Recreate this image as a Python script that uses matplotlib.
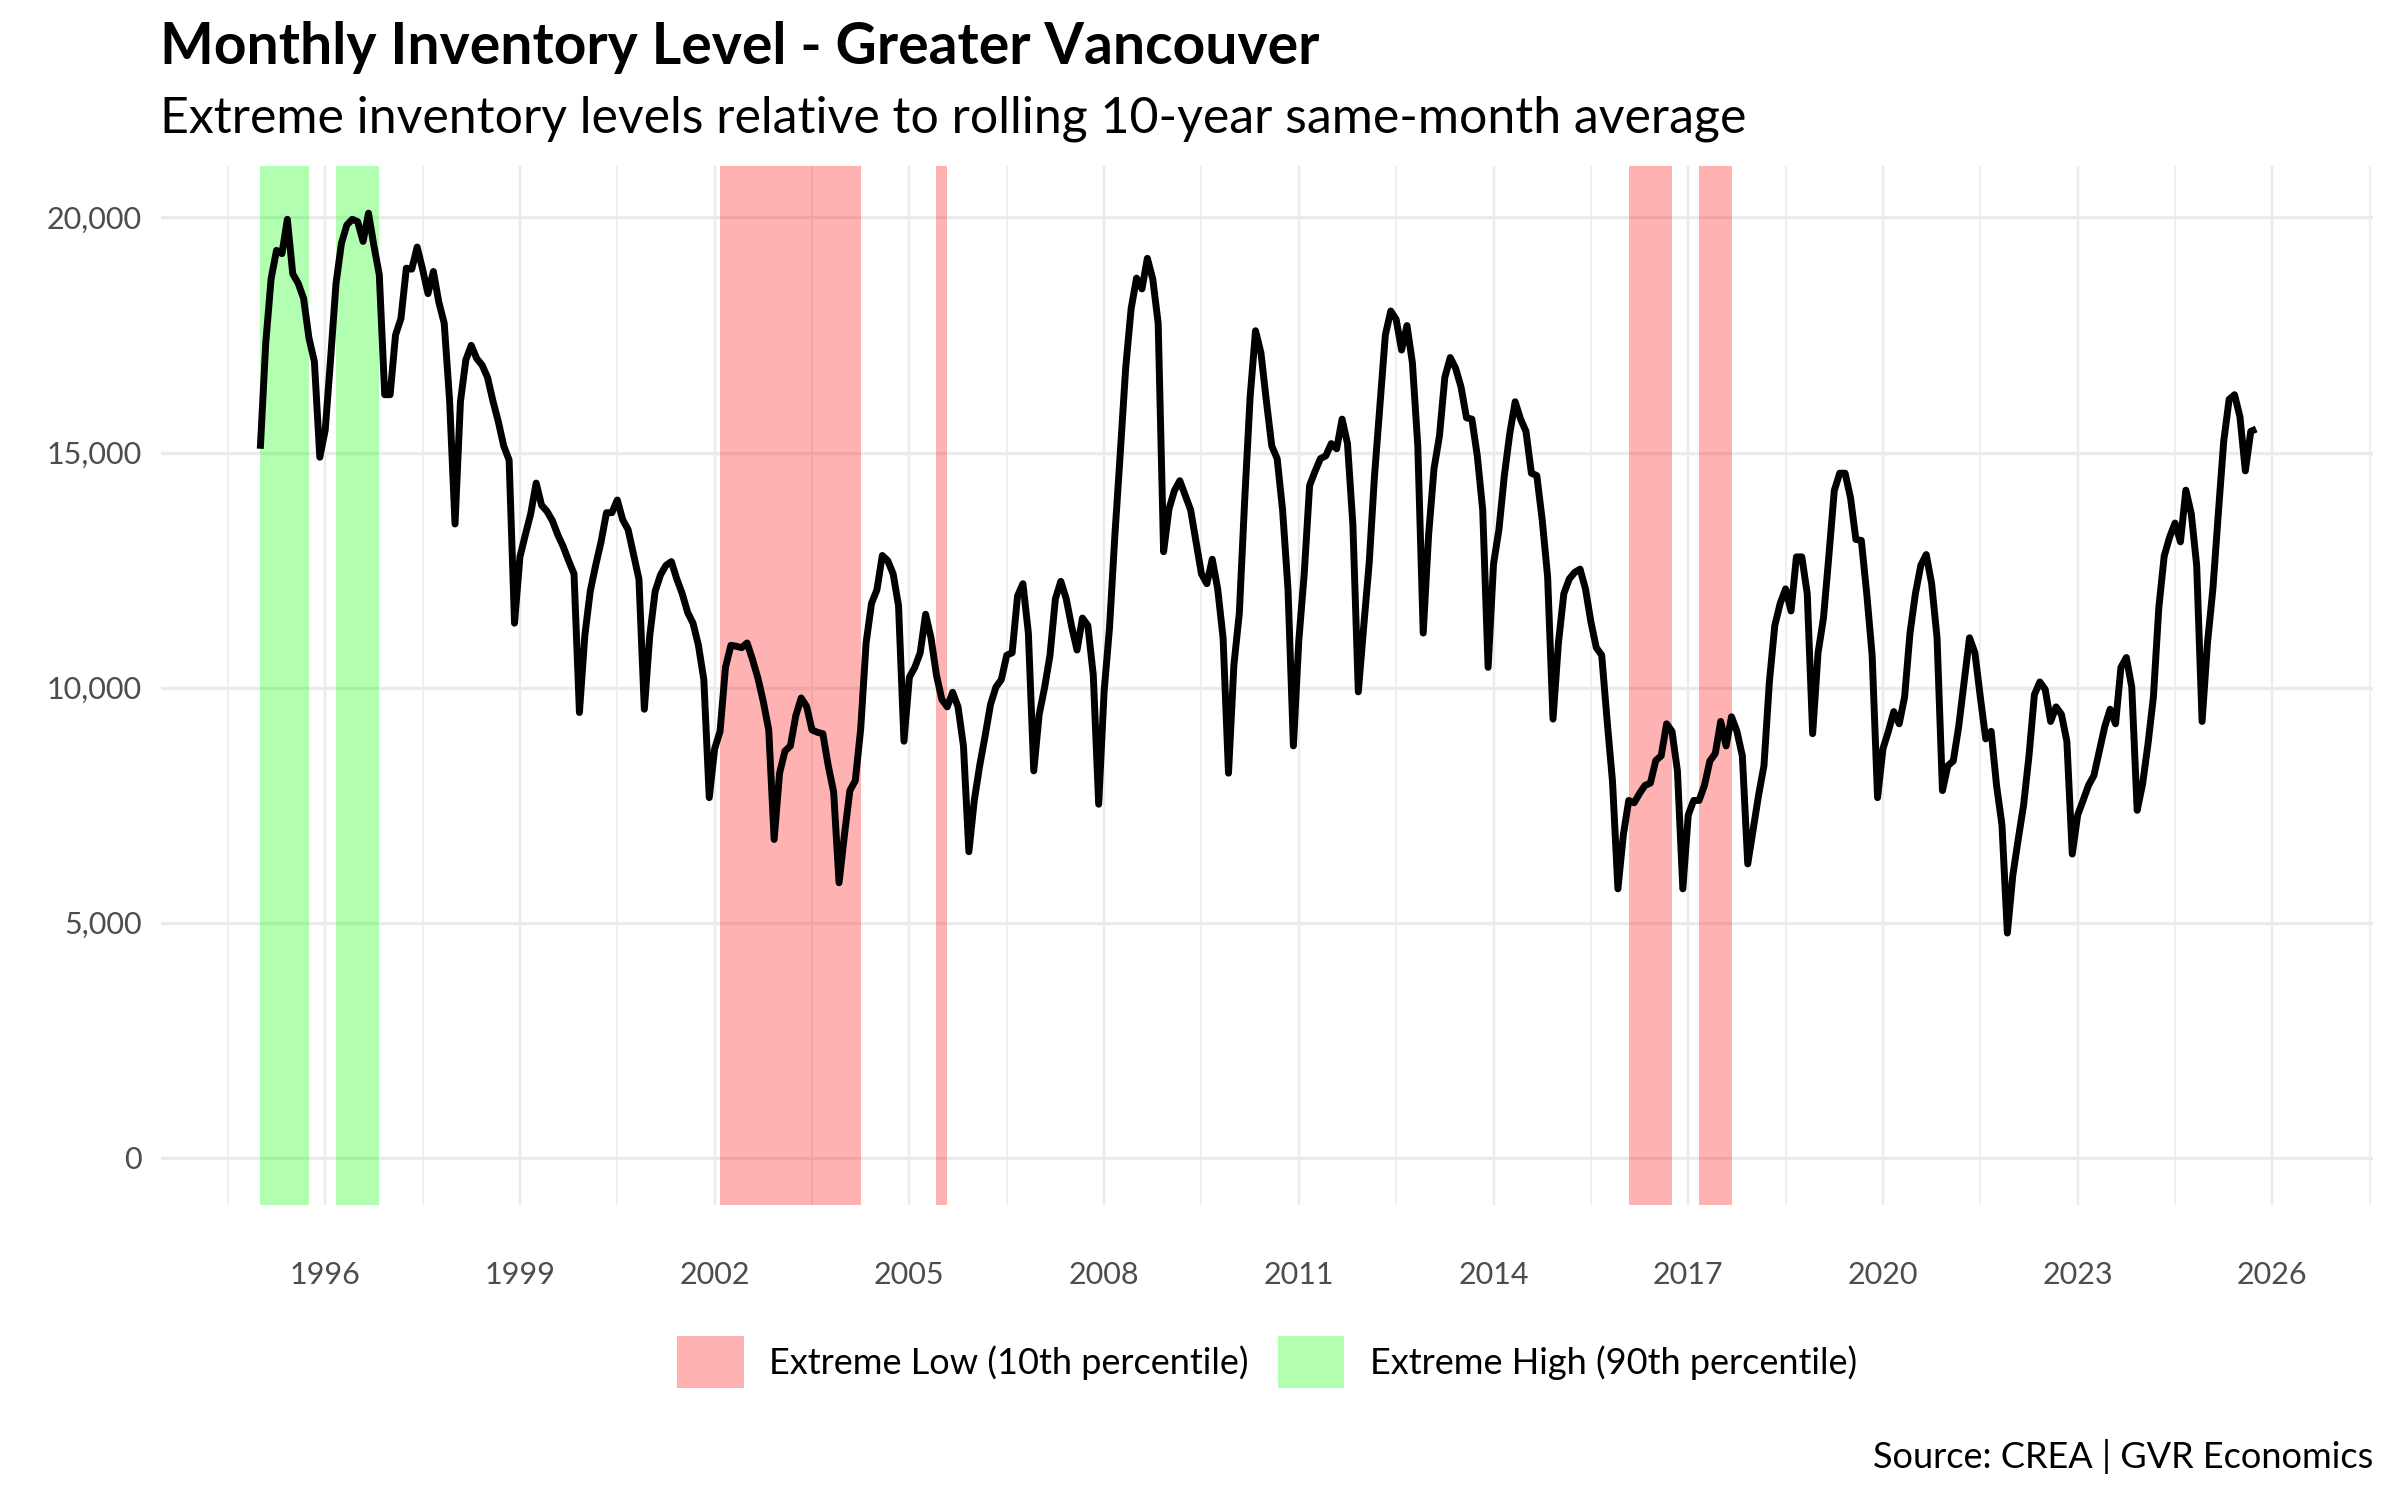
import numpy as np
import matplotlib.pyplot as plt
from matplotlib.patches import Patch
from matplotlib.ticker import FuncFormatter

# monthly inventory, Greater Vancouver, starting Jan 1995
start_year = 1995
inventory = [
    15080, 17320, 18700, 19300, 19230, 19960, 18800, 18600, 18280, 17430, 16930, 14900,  # 1995
    15480, 17000, 18600, 19450, 19840, 19960, 19910, 19490, 20090, 19400, 18780, 16230,  # 1996
    16230, 17500, 17850, 18920, 18900, 19370, 18900, 18380, 18850, 18200, 17750, 16100,  # 1997
    13480, 16080, 16970, 17280, 17000, 16860, 16600, 16100, 15660, 15140, 14840, 11370,  # 1998
    12780, 13250, 13700, 14350, 13880, 13750, 13550, 13250, 13000, 12700, 12420, 9470,   # 1999
    11110, 12050, 12600, 13100, 13720, 13720, 13990, 13570, 13360, 12830, 12310, 9540,   # 2000
    11100, 12050, 12400, 12600, 12680, 12310, 12000, 11600, 11370, 10900, 10170, 7660,   # 2001
    8700, 9070, 10430, 10900, 10880, 10850, 10950, 10600, 10200, 9700, 9100, 6770,       # 2002
    8180, 8650, 8760, 9400, 9780, 9600, 9100, 9050, 9020, 8340, 7780, 5850,              # 2003
    6870, 7810, 8020, 9120, 10950, 11790, 12080, 12810, 12700, 12420, 11740, 8860,       # 2004
    10220, 10430, 10740, 11560, 11060, 10270, 9750, 9590, 9900, 9590, 8760, 6510,        # 2005
    7600, 8340, 8970, 9640, 10010, 10170, 10690, 10740, 11950, 12210, 11160, 8230,       # 2006
    9430, 10000, 10690, 11890, 12260, 11890, 11300, 10800, 11480, 11320, 10270, 7520,    # 2007
    9910, 11270, 13250, 15000, 16810, 18060, 18710, 18480, 19130, 18690, 17750, 12890,   # 2008
    13800, 14190, 14400, 14090, 13780, 13100, 12420, 12210, 12730, 12100, 11060, 8180,   # 2009
    10480, 11580, 14000, 16180, 17590, 17120, 16100, 15140, 14870, 13780, 12100, 8760,   # 2010
    11000, 12420, 14300, 14600, 14870, 14930, 15190, 15080, 15710, 15190, 13460, 9910,   # 2011
    11300, 12630, 14510, 16000, 17500, 18010, 17830, 17180, 17700, 16910, 15140, 11160,  # 2012
    13250, 14660, 15350, 16600, 17020, 16790, 16390, 15740, 15710, 14930, 13780, 10430,  # 2013
    12630, 13360, 14510, 15400, 16080, 15710, 15450, 14560, 14510, 13570, 12360, 9330,   # 2014
    10950, 12000, 12310, 12450, 12520, 12100, 11400, 10850, 10690, 9300, 8000, 5720,     # 2015
    6870, 7600, 7550, 7750, 7920, 7970, 8450, 8550, 9230, 9070, 8230, 5720,              # 2016
    7290, 7600, 7600, 7920, 8440, 8600, 9280, 8760, 9380, 9070, 8550, 6250,              # 2017
    6980, 7710, 8340, 10120, 11320, 11790, 12100, 11630, 12780, 12780, 12000, 9020,      # 2018
    10740, 11480, 12800, 14190, 14560, 14560, 14040, 13150, 13130, 12000, 10690, 7660,   # 2019
    8700, 9070, 9490, 9230, 9800, 11160, 12000, 12600, 12830, 12210, 11060, 7810,        # 2020
    8340, 8440, 9170, 10120, 11060, 10740, 9800, 8910, 9070, 7920, 7080, 4780,           # 2021
    6000, 6770, 7500, 8550, 9850, 10120, 9960, 9280, 9590, 9430, 8860, 6460,             # 2022
    7290, 7600, 7920, 8130, 8650, 9170, 9540, 9230, 10430, 10640, 10010, 7390,           # 2023
    7950, 8800, 9800, 11700, 12800, 13200, 13500, 13100, 14200, 13700, 12600, 9280,      # 2024
    10950, 12100, 13700, 15240, 16130, 16230, 15760, 14610, 15450, 15500,                # 2025
]

# flagged periods (start month, end month)
high_bands = [("1995-01", "1995-10"), ("1996-03", "1996-11")]
low_bands = [("2002-02", "2004-04"), ("2005-06", "2005-08"),
             ("2016-02", "2016-10"), ("2017-03", "2017-09")]

tick_years = list(range(1996, 2027, 3))
y_ticks = [0, 5000, 10000, 15000, 20000]


def to_year(s):
    y, m = s.split("-")
    return int(y) + (int(m) - 1) / 12


x = start_year + np.arange(len(inventory)) / 12

plt.rcParams['font.family'] = ['Lato', 'DejaVu Sans']

fig = plt.figure(figsize=(24, 15), dpi=100)
W, H = 2400, 1500
ax = fig.add_axes([161 / W, 1 - 1205 / H, (2373 - 161) / W, (1205 - 166) / H])

for a, b in high_bands:
    ax.axvspan(to_year(a), to_year(b), color=(0, 1, 0), alpha=0.3, lw=0, zorder=1)
for a, b in low_bands:
    ax.axvspan(to_year(a), to_year(b), color=(1, 0, 0), alpha=0.3, lw=0, zorder=1)

ax.plot(x, inventory, color='black', lw=5.0, zorder=3,
        solid_joinstyle='round', solid_capstyle='butt')

ax.set_xlim(1993.47, 2027.55)
ax.set_ylim(-1004, 21094)
ax.set_xticks(tick_years)
ax.set_xticks(np.arange(1994.5, 2028, 3), minor=True)
ax.set_yticks(y_ticks)
ax.yaxis.set_major_formatter(FuncFormatter(lambda v, p: f"{int(v):,}"))

ax.set_axisbelow(True)
ax.grid(which='major', axis='y', color='#EBEBEB', lw=2.4)
ax.grid(which='major', axis='x', color='#EBEBEB', lw=1.7)
ax.grid(which='minor', axis='x', color='#EBEBEB', lw=1.1)
for s in ax.spines.values():
    s.set_visible(False)
ax.tick_params(which='both', length=0)
ax.tick_params(axis='x', labelsize=22, labelcolor='#4D4D4D', pad=40)
ax.tick_params(axis='y', labelsize=22, labelcolor='#4D4D4D', pad=14)

fig.text(160 / W, 1 - 64 / H, "Monthly Inventory Level - Greater Vancouver",
         fontsize=41, fontweight='bold', va='baseline', ha='left')
fig.text(160 / W, 1 - 133 / H,
         "Extreme inventory levels relative to rolling 10-year same-month average",
         fontsize=36, va='baseline', ha='left')
fig.text(2373 / W, 1 - 1456 / H, "Source: CREA | GVR Economics",
         fontsize=26, va='center', ha='right')

handles = [Patch(facecolor=(1, 0, 0), alpha=0.3, lw=0, label="Extreme Low (10th percentile)"),
           Patch(facecolor=(0, 1, 0), alpha=0.3, lw=0, label="Extreme High (90th percentile)")]
fig.legend(handles=handles, loc='center', bbox_to_anchor=(1267 / W, 1 - 1362 / H),
           ncol=2, frameon=False, fontsize=26, handlelength=1.85, handleheight=1.85,
           handletextpad=0.7, columnspacing=0.8)

fig.savefig("out.png", dpi=100)
